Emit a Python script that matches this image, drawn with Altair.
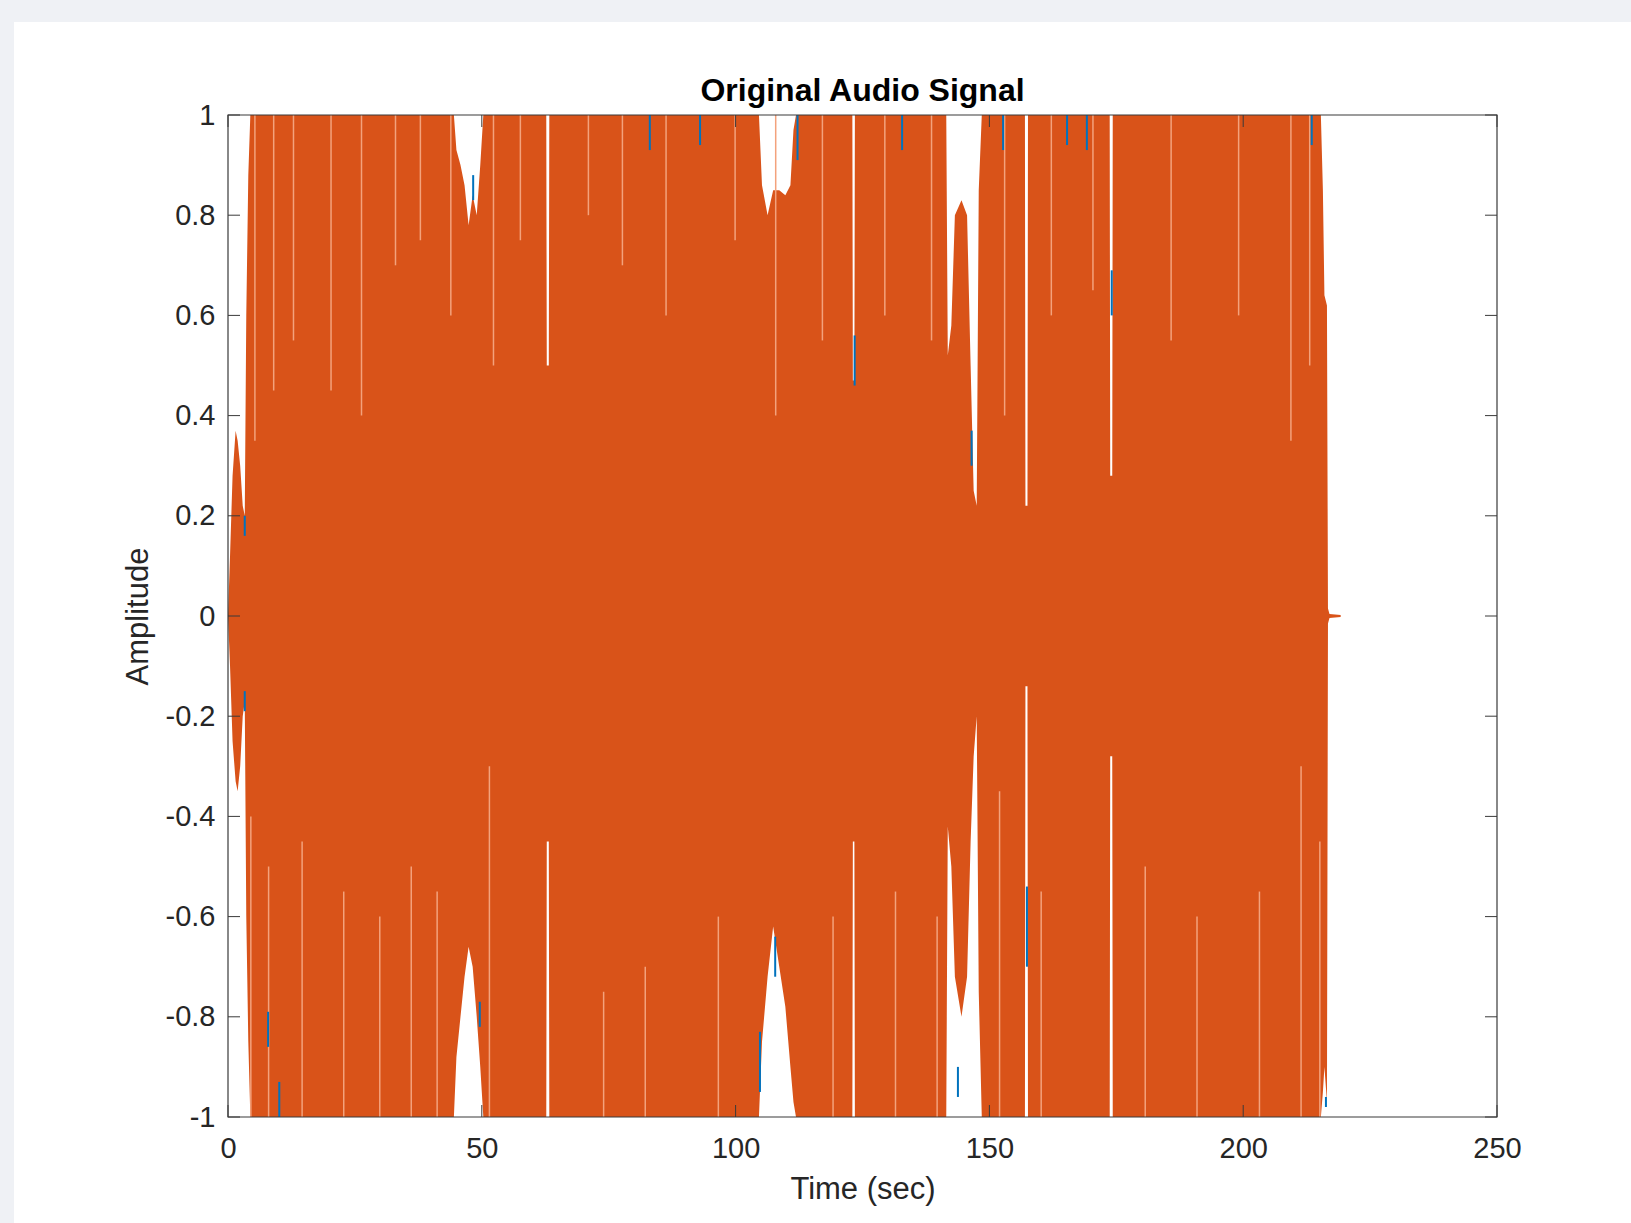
import altair as alt
import pandas as pd

# ---- waveform envelope: time (s), upper and lower extremes ----
env_time = [0, 0.4, 0.9, 1.5, 1.9, 2.4, 2.9, 3.3, 3.6, 4.0, 4.4,
            44.5, 45.0, 45.8, 46.6, 47.4, 48.2, 49.0, 49.7, 50.3,
            62.7, 62.8, 63.2, 63.3,
            104.6, 105.2, 106.3, 107.4, 108.6, 109.8, 110.8, 111.4, 111.9,
            123.0, 123.1, 123.4, 123.5,
            141.5, 141.8, 142.5, 143.2, 144.5, 145.6, 146.3, 146.9, 147.5, 147.9, 148.5,
            157.0, 157.1, 157.5, 157.6,
            173.7, 173.8, 174.2, 174.3,
            215.3, 215.7, 216.0, 216.5, 216.7, 217.0, 219.2]
env_upper = [0, 0.12, 0.28, 0.37, 0.35, 0.30, 0.22, 0.20, 0.60, 0.88, 1,
             1, 0.93, 0.90, 0.86, 0.78, 0.84, 0.80, 0.90, 1,
             1, 0.50, 0.50, 1,
             1, 0.86, 0.80, 0.85, 0.85, 0.84, 0.86, 0.97, 1,
             1, 0.47, 0.47, 1,
             1, 0.52, 0.58, 0.80, 0.83, 0.80, 0.50, 0.25, 0.22, 0.85, 1,
             1, 0.22, 0.22, 1,
             1, 0.28, 0.28, 1,
             1, 0.85, 0.64, 0.62, 0.015, 0.004, 0.002]
env_lower = [0, -0.10, -0.25, -0.33, -0.35, -0.30, -0.20, -0.17, -0.60, -0.85, -1,
             -1, -0.88, -0.80, -0.72, -0.66, -0.70, -0.80, -0.90, -1,
             -1, -0.45, -0.45, -1,
             -1, -0.85, -0.72, -0.62, -0.70, -0.78, -0.90, -0.97, -1,
             -1, -0.45, -0.45, -1,
             -1, -0.42, -0.50, -0.72, -0.80, -0.72, -0.45, -0.28, -0.20, -0.75, -1,
             -1, -0.14, -0.14, -1,
             -1, -0.28, -0.28, -1,
             -1, -0.95, -0.90, -0.97, -0.015, -0.004, -0.002]

# ---- thin light streaks between peaks: time, from, to ----
streak_time = [5.3, 9.0, 12.9, 20.3, 26.3, 33.0, 37.9, 43.9, 52.3, 57.6, 71.0, 77.7,
               86.3, 99.9, 107.9, 117.1, 129.4, 138.6, 153.0, 162.2, 170.4, 185.8,
               199.1, 209.4, 213.1,
               4.5, 8.0, 14.6, 22.8, 29.9, 36.1, 41.2, 51.5, 74.0, 82.2, 96.6,
               119.2, 131.5, 139.7, 152.0, 160.2, 180.7, 190.9, 203.2, 211.4, 215.1]
streak_from = [1] * 25 + [-1] * 21
streak_to = [0.35, 0.45, 0.55, 0.45, 0.40, 0.70, 0.75, 0.60, 0.50, 0.75, 0.80, 0.70,
             0.60, 0.75, 0.40, 0.55, 0.60, 0.55, 0.40, 0.60, 0.65, 0.55,
             0.60, 0.35, 0.50,
             -0.40, -0.50, -0.45, -0.55, -0.60, -0.50, -0.55, -0.30, -0.75, -0.70, -0.60,
             -0.60, -0.55, -0.60, -0.35, -0.55, -0.50, -0.60, -0.55, -0.30, -0.45]

# ---- first channel peaking out above the second: time, low, high ----
blue_time = [3.3, 3.3, 7.9, 10.1, 48.3, 49.6, 83.1, 93.0, 104.8, 107.8, 112.2,
             123.45, 132.8, 143.8, 146.5, 152.7, 157.4, 165.3, 169.2, 174.1, 213.5, 216.3]
blue_lo = [0.16, -0.19, -0.86, -1.0, 0.83, -0.82, 0.93, 0.94, -0.95, -0.72, 0.91,
           0.46, 0.93, -0.96, 0.30, 0.93, -0.70, 0.94, 0.93, 0.60, 0.94, -0.98]
blue_hi = [0.20, -0.15, -0.79, -0.93, 0.88, -0.77, 1.0, 1.0, -0.83, -0.64, 1.0,
           0.56, 1.0, -0.90, 0.37, 1.0, -0.54, 1.0, 1.0, 0.69, 1.0, -0.96]

x_ticks = [0, 50, 100, 150, 200, 250]
y_ticks = [-1, -0.8, -0.6, -0.4, -0.2, 0, 0.2, 0.4, 0.6, 0.8, 1]

ORANGE = "#D95319"
BLUE = "#0072BD"
STREAK = "#F3A27C"
AXIS = "#3a3a3a"
TEXT = "#262626"
FONT = "Liberation Sans"

W, H = 1269, 1002
TICK = 12
PAD_L, PAD_T, PAD_R, PAD_B = 228, 115, 134, 106
PANEL_TOP = 22  # white figure panel starts below a thin grey band

env_df = pd.DataFrame({"t": env_time, "hi": env_upper, "lo": env_lower})
streak_df = pd.DataFrame({"t": streak_time, "a": streak_from, "b": streak_to})
blue_df = pd.DataFrame({"t": blue_time, "a": blue_lo, "b": blue_hi})
xt_df = pd.DataFrame({"t": x_ticks})
yt_df = pd.DataFrame({"v": y_ticks})
one = alt.Data(values=[{}])

x_scale = alt.Scale(domain=[0, 250], nice=False, zero=False)
y_scale = alt.Scale(domain=[-1, 1], nice=False, zero=False)

# white figure panel behind the axes
panel = alt.Chart(one).mark_rect(fill="white", clip=False).encode(
    x=alt.value(14 - PAD_L), x2=alt.value(W + PAD_R),
    y=alt.value(PANEL_TOP - PAD_T), y2=alt.value(H + PAD_B),
)

wave = alt.Chart(env_df).mark_area(color=ORANGE, interpolate="linear", opacity=1).encode(
    x=alt.X(
        "t:Q", scale=x_scale,
        axis=alt.Axis(
            values=x_ticks, title="Time (sec)", ticks=False, domain=False, grid=False,
            labelPadding=17, labelFontSize=29, labelFont=FONT, labelColor=TEXT,
            labelFlush=False, labelOverlap=False, labelBound=False,
            titleFont=FONT, titleFontSize=31, titleFontWeight="normal", titleColor=TEXT,
            titleY=81, titleBaseline="alphabetic", zindex=1,
        ),
    ),
    y=alt.Y(
        "hi:Q", scale=y_scale,
        axis=alt.Axis(
            values=y_ticks, title="Amplitude", ticks=False, domain=False, grid=False,
            labelPadding=13, labelFontSize=29, labelFont=FONT, labelColor=TEXT,
            labelExpr="'' + datum.value", labelOverlap=False, labelBound=False,
            titleFont=FONT, titleFontSize=31, titleFontWeight="normal", titleColor=TEXT,
            titleX=-81, titleY=H / 2, titleAngle=270, titleBaseline="alphabetic",
            zindex=1,
        ),
    ),
    y2="lo:Q",
)

streaks = alt.Chart(streak_df).mark_rule(color=STREAK, strokeWidth=1.5).encode(
    x=alt.X("t:Q", scale=x_scale), y=alt.Y("a:Q", scale=y_scale), y2="b:Q"
)

blue = alt.Chart(blue_df).mark_rule(color=BLUE, strokeWidth=2).encode(
    x=alt.X("t:Q", scale=x_scale), y=alt.Y("a:Q", scale=y_scale), y2="b:Q"
)

# axes box drawn over the waveform
box = alt.Chart(one).mark_rect(fill=None, stroke=AXIS, strokeWidth=1.2).encode(
    x=alt.value(0), x2=alt.value(W), y=alt.value(0), y2=alt.value(H)
)

# inward ticks on all four sides of the box
tick_bottom = alt.Chart(xt_df).mark_rule(color=AXIS, strokeWidth=1).encode(
    x=alt.X("t:Q", scale=x_scale), y=alt.value(H), y2=alt.value(H - TICK)
)
tick_top = alt.Chart(xt_df).mark_rule(color=AXIS, strokeWidth=1).encode(
    x=alt.X("t:Q", scale=x_scale), y=alt.value(0), y2=alt.value(TICK)
)
tick_left = alt.Chart(yt_df).mark_rule(color=AXIS, strokeWidth=1).encode(
    y=alt.Y("v:Q", scale=y_scale), x=alt.value(0), x2=alt.value(TICK)
)
tick_right = alt.Chart(yt_df).mark_rule(color=AXIS, strokeWidth=1).encode(
    y=alt.Y("v:Q", scale=y_scale), x=alt.value(W - TICK), x2=alt.value(W)
)

chart = alt.layer(
    panel, wave, streaks, blue, box, tick_bottom, tick_top, tick_left, tick_right
).properties(
    width=W, height=H,
    title=alt.TitleParams(
        "Original Audio Signal", font=FONT, fontSize=32, fontWeight="bold",
        color="black", anchor="middle", frame="group", offset=12,
        baseline="alphabetic", zindex=1,
        # the title sits above the panel's top edge; bring it back over the box
        dy=123,
    ),
    autosize=alt.AutoSizeParams(type="none"),
    padding={"left": PAD_L, "top": PAD_T, "right": PAD_R, "bottom": PAD_B},
    background="#eff1f5",
).configure_view(
    stroke=None, fill="white"
)

chart.save("out.html", embed_options={"renderer": "svg", "actions": False})
